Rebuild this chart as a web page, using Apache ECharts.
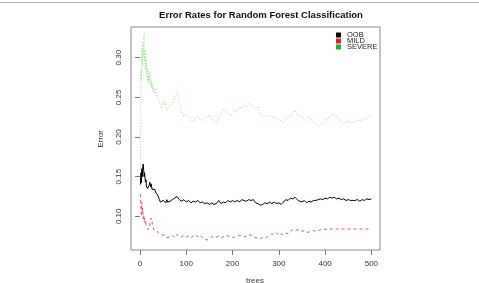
<!DOCTYPE html>
<html>
<head>
<meta charset="utf-8">
<script src="https://cdn.jsdelivr.net/npm/echarts@6/dist/echarts.min.js"></script>
<style>
  html, body { margin: 0; padding: 0; background: #fff; }
  #chart { width: 479px; height: 283px; }
</style>
</head>
<body>
<div id="chart"></div>
<script>
// number of trees at each sampled point
var trees = [
  1, 2, 3, 4, 5, 6, 7, 8, 9, 10,
  11, 12, 13, 14, 15, 16, 17, 18, 19, 20,
  21, 22, 23, 24, 25, 26, 27, 28, 29, 30,
  32, 34, 36, 38, 40, 42, 44, 46, 48, 50,
  52, 54, 56, 58, 60,
  65, 70, 75, 80, 85, 90, 95, 100, 105, 110,
  115, 120, 125, 130, 135, 140, 145, 150, 155, 160,
  165, 170, 175, 180, 185, 190, 195, 200, 205, 210,
  215, 220, 225, 230, 235, 240, 245, 250, 255, 260,
  265, 270, 275, 280, 285, 290, 295, 300, 305, 310,
  315, 320, 325, 330, 335, 340, 345, 350, 355, 360,
  365, 370, 375, 380, 385, 390, 395, 400, 405, 410,
  415, 420, 425, 430, 435, 440, 445, 450, 455, 460,
  465, 470, 475, 480, 485, 490, 495, 500
];

var oob = [
  0.140, 0.155, 0.142, 0.160, 0.150, 0.163, 0.166, 0.158, 0.150, 0.155,
  0.147, 0.143, 0.146, 0.138, 0.140, 0.135, 0.137, 0.134, 0.136, 0.139,
  0.143, 0.140, 0.137, 0.141, 0.138, 0.134, 0.136, 0.133, 0.135, 0.132,
  0.134, 0.130, 0.131, 0.127, 0.126, 0.121, 0.118, 0.119, 0.117, 0.120,
  0.118, 0.119, 0.117, 0.121, 0.118,
  0.119, 0.121, 0.123, 0.125, 0.121, 0.119, 0.121, 0.118, 0.120, 0.117,
  0.119, 0.118, 0.120, 0.117, 0.118, 0.116, 0.117, 0.115, 0.117, 0.115,
  0.116, 0.120, 0.116, 0.118, 0.117, 0.120, 0.118, 0.120, 0.118, 0.120,
  0.118, 0.121, 0.120, 0.119, 0.121, 0.120, 0.121, 0.117, 0.116, 0.114,
  0.115, 0.117, 0.116, 0.118, 0.116, 0.118, 0.116, 0.117, 0.115, 0.118,
  0.121, 0.120, 0.123, 0.122, 0.124, 0.121, 0.119, 0.118, 0.120, 0.117,
  0.119, 0.118, 0.120, 0.120, 0.121, 0.122, 0.121, 0.123, 0.122, 0.124,
  0.123, 0.124, 0.122, 0.123, 0.121, 0.122, 0.120, 0.121, 0.120, 0.120,
  0.120, 0.121, 0.119, 0.121, 0.120, 0.122, 0.121, 0.122
];

var mild = [
  0.128, 0.112, 0.100, 0.118, 0.105, 0.110, 0.097, 0.102, 0.094, 0.098,
  0.092, 0.095, 0.090, 0.089, 0.086, 0.084, 0.086, 0.083, 0.081, 0.085,
  0.088, 0.092, 0.095, 0.098, 0.096, 0.093, 0.090, 0.087, 0.085, 0.083,
  0.084, 0.081, 0.082, 0.080, 0.079, 0.078, 0.079, 0.077, 0.076, 0.075,
  0.076, 0.074, 0.075, 0.073, 0.075,
  0.074, 0.076, 0.073, 0.077, 0.075, 0.074, 0.076, 0.074, 0.075, 0.073,
  0.075, 0.077, 0.074, 0.076, 0.073, 0.071, 0.070, 0.072, 0.074, 0.075,
  0.074, 0.075, 0.073, 0.074, 0.076, 0.075, 0.074, 0.073, 0.074, 0.075,
  0.076, 0.075, 0.074, 0.075, 0.077, 0.076, 0.074, 0.073, 0.072, 0.072,
  0.073, 0.072, 0.074, 0.076, 0.078, 0.077, 0.079, 0.076, 0.078, 0.077,
  0.079, 0.078, 0.081, 0.083, 0.082, 0.083, 0.082, 0.081, 0.082, 0.080,
  0.080, 0.081, 0.082, 0.081, 0.082, 0.083, 0.083, 0.084, 0.083, 0.084,
  0.084, 0.085, 0.084, 0.084, 0.084, 0.084, 0.084, 0.084, 0.084, 0.084,
  0.084, 0.084, 0.084, 0.084, 0.084, 0.084, 0.084, 0.084
];

var severe = [
  0.160, 0.285, 0.270, 0.310, 0.290, 0.318, 0.300, 0.325, 0.331, 0.295,
  0.310, 0.285, 0.300, 0.280, 0.290, 0.272, 0.285, 0.268, 0.278, 0.270,
  0.282, 0.275, 0.265, 0.272, 0.262, 0.268, 0.258, 0.265, 0.262, 0.255,
  0.258, 0.262, 0.254, 0.250, 0.251, 0.245, 0.240, 0.236, 0.242, 0.245,
  0.240, 0.245, 0.238, 0.234, 0.236,
  0.240, 0.243, 0.250, 0.257, 0.244, 0.232, 0.226, 0.228, 0.226, 0.222,
  0.219, 0.225, 0.226, 0.222, 0.221, 0.224, 0.226, 0.228, 0.222, 0.220,
  0.217, 0.225, 0.230, 0.236, 0.232, 0.230, 0.226, 0.230, 0.234, 0.232,
  0.238, 0.236, 0.240, 0.238, 0.242, 0.240, 0.238, 0.236, 0.238, 0.230,
  0.226, 0.228, 0.226, 0.226, 0.225, 0.224, 0.224, 0.222, 0.220, 0.217,
  0.222, 0.226, 0.226, 0.230, 0.234, 0.228, 0.226, 0.226, 0.222, 0.221,
  0.226, 0.222, 0.219, 0.216, 0.213, 0.215, 0.217, 0.220, 0.224, 0.226,
  0.228, 0.228, 0.226, 0.222, 0.220, 0.217, 0.219, 0.220, 0.218, 0.219,
  0.219, 0.221, 0.220, 0.222, 0.224, 0.222, 0.226, 0.228
];

var xTicks = [0, 100, 200, 300, 400, 500];
var yTicks = [0.10, 0.15, 0.20, 0.25, 0.30];
var seriesNames = ["OOB", "MILD", "SEVERE"];

function pairs(values) {
  return values.map(function (v, i) { return [trees[i], v]; });
}

var colors = ["#000000", "#E0505E", "#8FE07F"];
var legendColors = ["#000000", "#D22A2A", "#2EA82E"];
var lineTypes = ["solid", [3, 3], [1, 2]];
var lists = [oob, mild, severe];

var chart = echarts.init(document.getElementById("chart"), null, { renderer: "canvas" });

var option = {
  animation: false,
  backgroundColor: "#fff",
  textStyle: { fontFamily: "Liberation Sans, Arial, sans-serif" },
  title: {
    text: "Error Rates for Random Forest Classification",
    left: 256,
    top: 5,
    textAlign: "center",
    textStyle: { fontSize: 9.5, fontWeight: "bold", color: "#111" }
  },
  legend: {
    orient: "vertical",
    left: 336,
    top: 31,
    padding: 0,
    itemWidth: 5,
    itemHeight: 5,
    itemGap: -2,
    icon: "rect",
    textStyle: { fontSize: 7.5, color: "#222", padding: [0, 0, 0, 1] },
    data: seriesNames.map(function (n, i) {
      return { name: n, itemStyle: { color: legendColors[i] } };
    })
  },
  grid: {
    left: 131,
    top: 27,
    right: 99,
    bottom: 33,
    show: true,
    borderColor: "#888",
    borderWidth: 1
  },
  xAxis: {
    type: "value",
    min: -19.4,
    max: 518.6,
    axisLine: { show: false },
    splitLine: { show: false },
    axisTick: { show: true, length: 5, customValues: xTicks, lineStyle: { color: "#777" } },
    axisLabel: { customValues: xTicks, fontSize: 8, color: "#333", margin: 10 }
  },
  yAxis: {
    type: "value",
    min: 0.0575,
    max: 0.3387,
    axisLine: { show: false },
    splitLine: { show: false },
    axisTick: { show: true, length: 5, customValues: yTicks, lineStyle: { color: "#777" } },
    axisLabel: {
      customValues: yTicks,
      fontSize: 8,
      color: "#333",
      rotate: 90,
      margin: 8,
      formatter: function (v) { return v.toFixed(2); }
    }
  },
  graphic: [
    {
      type: "line",
      shape: { x1: 0, y1: 2.5, x2: 479, y2: 2.5 },
      style: { stroke: "#aaa", lineWidth: 1 }
    },
    {
      type: "text",
      left: 97,
      top: 130,
      rotation: Math.PI / 2,
      style: { text: "Error", fontSize: 8, fill: "#333", fontFamily: "Liberation Sans" }
    },
    {
      type: "text",
      x: 255,
      y: 281,
      style: { text: "trees", fontSize: 8, fill: "#333", align: "center", verticalAlign: "middle", fontFamily: "Liberation Sans" }
    }
  ],
  series: lists.map(function (vals, i) {
    return {
      name: seriesNames[i],
      type: "line",
      data: pairs(vals),
      showSymbol: false,
      symbol: "none",
      color: colors[i],
      lineStyle: { color: colors[i], width: 1, type: lineTypes[i] },
      z: 3 - i
    };
  })
};

chart.setOption(option);
</script>
</body>
</html>
